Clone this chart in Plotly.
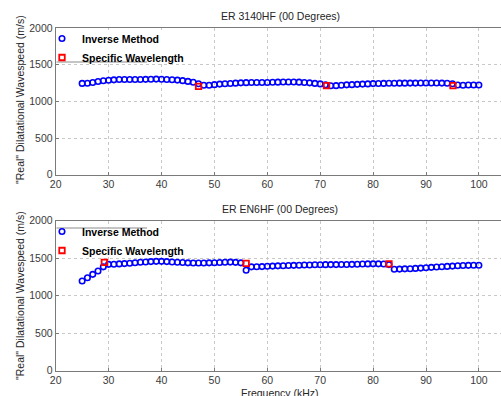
import plotly.graph_objects as go

freq = [25, 26, 27, 28, 29, 30, 31, 32, 33, 34, 35, 36, 37, 38, 39, 40,
        41, 42, 43, 44, 45, 46, 47, 48, 49, 50, 51, 52, 53, 54, 55, 56,
        57, 58, 59, 60, 61, 62, 63, 64, 65, 66, 67, 68, 69, 70, 71, 72,
        73, 74, 75, 76, 77, 78, 79, 80, 81, 82, 83, 84, 85, 86, 87, 88,
        89, 90, 91, 92, 93, 94, 95, 96, 97, 98, 99, 100]

top_inverse = [1245, 1247, 1258, 1270, 1280, 1287, 1293, 1297, 1298, 1298, 1297, 1298,
               1300, 1302, 1303, 1302, 1298, 1294, 1290, 1282, 1272, 1260, 1240, 1220,
               1220, 1228, 1235, 1240, 1244, 1248, 1252, 1255, 1257, 1258, 1258, 1258,
               1260, 1262, 1263, 1263, 1263, 1262, 1258, 1252, 1245, 1238, 1225, 1212,
               1214, 1220, 1225, 1228, 1232, 1235, 1238, 1242, 1244, 1245, 1246, 1247,
               1248, 1248, 1249, 1249, 1250, 1250, 1250, 1250, 1249, 1247, 1240, 1222,
               1220, 1222, 1222, 1222]
top_specific_x = [47.0, 71.2, 95.1]
top_specific_y = [1205, 1215, 1215]

bot_inverse = [1196, 1240, 1285, 1330, 1385, 1418, 1420, 1424, 1428, 1433, 1440, 1446,
               1450, 1455, 1458, 1458, 1455, 1450, 1446, 1442, 1438, 1436, 1436, 1437,
               1438, 1440, 1443, 1446, 1448, 1445, 1438, 1340, 1385, 1386, 1388, 1392,
               1395, 1398, 1400, 1403, 1405, 1407, 1409, 1410, 1412, 1413, 1414, 1415,
               1415, 1416, 1417, 1418, 1420, 1422, 1424, 1425, 1425, 1422, 1415, 1352,
               1355, 1358, 1360, 1364, 1368, 1373, 1378, 1383, 1387, 1391, 1395, 1399,
               1402, 1405, 1406, 1407]
bot_specific_x = [29.2, 56.0, 83.0]
bot_specific_y = [1445, 1430, 1424]

titles = ["ER 3140HF (00 Degrees)", "ER EN6HF (00 Degrees)"]
ylabel = "\"Real\" Dilatational Wavespeed (m/s)"
xlabel = "Frequency (kHz)"
xticks = [20, 30, 40, 50, 60, 70, 80, 90, 100]
yticks = [0, 500, 1000, 1500, 2000]

W, H = 501, 396
FONT = "Liberation Sans, Arial, sans-serif"
FS = 10.5
BLUE = "#0000ff"
RED = "#ff0000"

fig = go.Figure()

def add_panel(idx, inv, sx, sy):
    xa = "x" if idx == 1 else "x2"
    ya = "y" if idx == 1 else "y2"
    lg = "legend" if idx == 1 else "legend2"
    fig.add_trace(go.Scatter(
        x=freq, y=inv, mode="markers", name="Inverse Method",
        marker=dict(symbol="circle-open", size=5.5, color=BLUE, line=dict(width=1.6, color=BLUE)),
        xaxis=xa, yaxis=ya, legend=lg))
    fig.add_trace(go.Scatter(
        x=sx, y=sy, mode="markers", name="Specific Wavelength",
        marker=dict(symbol="square-open", size=5.5, color=RED, line=dict(width=1.8, color=RED)),
        xaxis=xa, yaxis=ya, legend=lg))

add_panel(1, top_inverse, top_specific_x, top_specific_y)
add_panel(2, bot_inverse, bot_specific_x, bot_specific_y)

x0 = 55.7 / W
top_dom = [1 - 174.7 / H, 1 - 28 / H]
bot_dom = [1 - 370.7 / H, 1 - 220.7 / H]

axis_common = dict(
    showgrid=True, gridcolor="#c8c8c8", griddash="dot", gridwidth=1,
    showline=True, linecolor="#7a7a7a", linewidth=1,
    ticks="inside", ticklen=3, tickcolor="#7a7a7a",
    tickfont=dict(family=FONT, size=FS, color="#3a3a3a"),
    zeroline=False, automargin=False,
)

xr = [20, 20 + (W - 55.7) / 5.29]

legend_common = dict(xanchor="left", yanchor="top",
                     bgcolor="rgba(255,255,255,0)", borderwidth=0, tracegroupgap=0,
                     font=dict(family=FONT, size=FS, color="black", weight="bold"),
                     itemsizing="trace")

fig.update_layout(
    width=W, height=H, autosize=False,
    margin=dict(l=0, r=0, t=0, b=0, pad=0),
    paper_bgcolor="white", plot_bgcolor="white",
    showlegend=True,
    xaxis=dict(domain=[x0, 1], range=xr, tickvals=xticks, anchor="y", mirror=True, **axis_common),
    yaxis=dict(domain=top_dom, range=[0, 2000], tickvals=yticks, anchor="x", mirror=False, **axis_common),
    xaxis2=dict(domain=[x0, 1], range=xr, tickvals=xticks, anchor="y2", mirror=True, **axis_common),
    yaxis2=dict(domain=bot_dom, range=[0, 2000], tickvals=yticks, anchor="x2", mirror=False, **axis_common),
    legend=dict(x=42 / W, y=1 - 24 / H, **legend_common),
    legend2=dict(x=42 / W, y=1 - 217 / H, **legend_common),
)

# white legend boxes masking the grid, with their visible grey edge
def legend_box(y_top_px, y_bot_px, line_y_px):
    fig.add_shape(type="rect", xref="paper", yref="paper",
                  x0=56.5 / W, x1=180 / W, y0=1 - y_bot_px / H, y1=1 - y_top_px / H,
                  fillcolor="white", line_width=0, layer="above")
    fig.add_shape(type="line", xref="paper", yref="paper",
                  x0=56.5 / W, x1=147 / W, y0=1 - line_y_px / H, y1=1 - line_y_px / H,
                  line=dict(color="#8a8a8a", width=1), layer="above")

legend_box(30, 62, 62)
legend_box(228, 254, 228)

annos = []
for t, ypx in zip(titles, [16, 209]):
    annos.append(dict(text=t, x=280 / W, y=1 - ypx / H, xref="paper", yref="paper",
                      showarrow=False, xanchor="center", yanchor="middle",
                      font=dict(family=FONT, size=FS, color="#262626")))
for ypx in [100, 296]:
    annos.append(dict(text=ylabel, x=20 / W, y=1 - ypx / H, xref="paper", yref="paper",
                      showarrow=False, textangle=-90, xanchor="center", yanchor="middle",
                      font=dict(family=FONT, size=FS, color="#262626")))
annos.append(dict(text=xlabel, x=280 / W, y=1 - 393 / H, xref="paper", yref="paper",
                  showarrow=False, xanchor="center", yanchor="middle",
                  font=dict(family=FONT, size=FS, color="#262626")))
fig.update_layout(annotations=annos)

fig.write_html("out.html", config={"displayModeBar": False},
               post_script="document.body.style.margin='0';document.body.style.overflow='hidden';")
